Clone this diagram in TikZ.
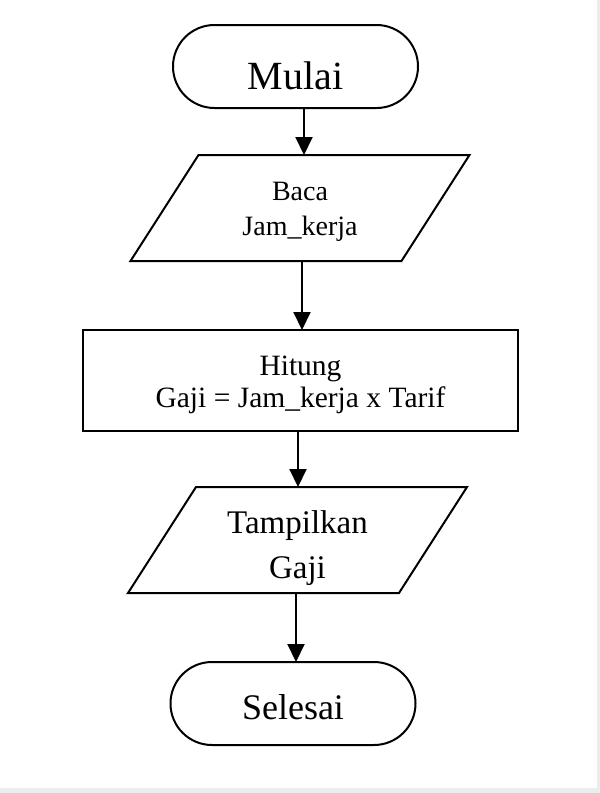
\documentclass[tikz,border=0pt]{standalone}
\usepackage{fontspec}
\setmainfont{Liberation Serif}
\usetikzlibrary{shapes.misc,arrows.meta}
\newcommand\drawio[1]{\draw[shapeline] ([xshift=-34pt]#1.south west) -- ([xshift=34pt]#1.north west) -- ([xshift=34pt]#1.north east) -- ([xshift=-34pt]#1.south east) -- cycle;}
\begin{document}
\begin{tikzpicture}[x=1pt,y=-1pt,
  every node/.style={inner sep=0pt, outer sep=0pt},
  every label/.style={align=center},
  shapeline/.style={draw=black, line width=2pt},
  term/.style={shapeline, rounded rectangle, minimum width=245pt, minimum height=83pt},
  iobox/.style={rectangle, minimum width=271pt, minimum height=106pt},
  procbox/.style={shapeline, rectangle, minimum width=435pt, minimum height=101pt},
  flow/.style={line width=2pt, -{Triangle[width=17pt,length=18pt]}},
]
\useasboundingbox (0,0) rectangle (600,793);
\fill[white] (0,0) rectangle (600,793);
\fill[gray!15] (597,0) rectangle (600,793);
\fill[gray!15] (0,788) rectangle (600,793);

\node[term, label={[font=\fontsize{40}{44}\selectfont, yshift=-9pt]center:Mulai}] (mulai) at (295.5,66.5) {};
\node[iobox, label={[font=\fontsize{28}{35}\selectfont, yshift=-4pt]center:Baca\\Jam\_kerja}] (baca) at (300,208) {};
\node[procbox, label={[font=\fontsize{29.5}{32}\selectfont, yshift=-4pt]center:Hitung\\Gaji = Jam\_kerja x Tarif}] (hitung) at (300.5,380.5) {};
\node[iobox, label={[font=\fontsize{33}{45}\selectfont, yshift=-8pt]center:Tampilkan\\Gaji}] (tampil) at (297.5,540) {};
\node[term, label={[font=\fontsize{36}{40}\selectfont, yshift=-4pt]center:Selesai}] (selesai) at (293,703.5) {};
\drawio{baca}
\drawio{tampil}

\coordinate (a1) at (304,0);
\coordinate (a2) at (302,0);
\coordinate (a3) at (298,0);
\coordinate (a4) at (296,0);

\draw[flow] (mulai.south -| a1) -- (baca.north -| a1);
\draw[flow] (baca.south -| a2) -- (hitung.north -| a2);
\draw[flow] (hitung.south -| a3) -- (tampil.north -| a3);
\draw[flow] (tampil.south -| a4) -- (selesai.north -| a4);
\end{tikzpicture}
\end{document}
